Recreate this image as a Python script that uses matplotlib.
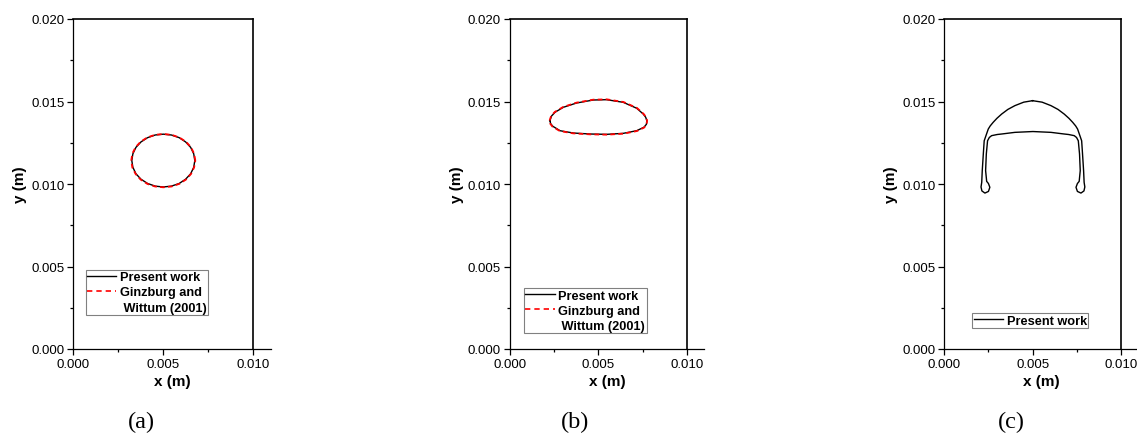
import numpy as np
import matplotlib
matplotlib.use("Agg")
import matplotlib.pyplot as plt
from matplotlib.lines import Line2D
from matplotlib.ticker import MultipleLocator, FormatStrFormatter

plt.rcParams["font.family"] = ["Liberation Sans", "DejaVu Sans"]

# (a) bubble contour, present work and Ginzburg & Wittum (2001), metres
a_x = [0.00675, 0.00669, 0.00652, 0.00624, 0.00588, 0.00545, 0.00500, 0.00455,
       0.00413, 0.00376, 0.00348, 0.00331, 0.00325, 0.00331, 0.00348, 0.00376,
       0.00413, 0.00455, 0.00500, 0.00545, 0.00588, 0.00624, 0.00652, 0.00669]
a_y = [0.01142, 0.01183, 0.01222, 0.01255, 0.01281, 0.01297, 0.01302, 0.01297,
       0.01281, 0.01255, 0.01222, 0.01183, 0.01142, 0.01101, 0.01062, 0.01029,
       0.01003, 0.00987, 0.00982, 0.00987, 0.01003, 0.01029, 0.01062, 0.01101]
a_ref_x = [0.00678, 0.00671, 0.00654, 0.00626, 0.00589, 0.00546, 0.00500, 0.00454,
           0.00411, 0.00374, 0.00346, 0.00328, 0.00322, 0.00328, 0.00346, 0.00374,
           0.00411, 0.00454, 0.00500, 0.00546, 0.00589, 0.00626, 0.00654, 0.00671]
a_ref_y = [0.01142, 0.01184, 0.01223, 0.01256, 0.01282, 0.01298, 0.01303, 0.01298,
           0.01282, 0.01256, 0.01223, 0.01184, 0.01142, 0.01100, 0.01061, 0.01027,
           0.01001, 0.00985, 0.00980, 0.00985, 0.01001, 0.01027, 0.01061, 0.01100]

# (b)
b_x = [0.00226, 0.00235, 0.00255, 0.00302, 0.00377, 0.00471, 0.00547, 0.00641,
       0.00717, 0.00754, 0.00768, 0.00774, 0.00772, 0.00758, 0.00717, 0.00641,
       0.00547, 0.00453, 0.00358, 0.00283, 0.00242, 0.00230]
b_y = [0.01384, 0.01412, 0.01435, 0.01465, 0.01491, 0.01509, 0.01511, 0.01495,
       0.01459, 0.01424, 0.01404, 0.01384, 0.01362, 0.01344, 0.01323, 0.01307,
       0.01301, 0.01303, 0.01309, 0.01323, 0.01350, 0.01366]
b_ref_x = [0.00224, 0.00233, 0.00254, 0.00301, 0.00376, 0.00471, 0.00548, 0.00642,
           0.00718, 0.00756, 0.00770, 0.00776, 0.00773, 0.00759, 0.00718, 0.00642,
           0.00547, 0.00453, 0.00357, 0.00282, 0.00240, 0.00228]
b_ref_y = [0.01384, 0.01413, 0.01437, 0.01467, 0.01493, 0.01511, 0.01513, 0.01497,
           0.01461, 0.01425, 0.01405, 0.01384, 0.01361, 0.01342, 0.01321, 0.01305,
           0.01299, 0.01301, 0.01307, 0.01321, 0.01348, 0.01365]

# (c) present work only
c_x = [0.00500, 0.00450, 0.00400, 0.00360, 0.00325, 0.00298, 0.00277, 0.00260,
       0.00249, 0.00236, 0.00226, 0.00221, 0.00215, 0.00212, 0.00208, 0.00213,
       0.00230, 0.00250, 0.00258, 0.00250, 0.00240, 0.00234, 0.00238, 0.00245,
       0.00255, 0.00268, 0.00300, 0.00325, 0.00400, 0.00502, 0.00604, 0.00679,
       0.00704, 0.00736, 0.00749, 0.00759, 0.00766, 0.00770, 0.00764, 0.00754,
       0.00746, 0.00754, 0.00774, 0.00791, 0.00796, 0.00792, 0.00789, 0.00783,
       0.00778, 0.00768, 0.00755, 0.00744, 0.00727, 0.00706, 0.00679, 0.00644,
       0.00604, 0.00554]
c_y = [0.01505, 0.01496, 0.01475, 0.01452, 0.01424, 0.01398, 0.01374, 0.01352,
       0.01333, 0.01293, 0.01262, 0.01182, 0.01081, 0.01010, 0.00982, 0.00958,
       0.00945, 0.00955, 0.00980, 0.01003, 0.01016, 0.01081, 0.01182, 0.01262,
       0.01282, 0.01293, 0.01300, 0.01303, 0.01313, 0.01318, 0.01313, 0.01303,
       0.01300, 0.01293, 0.01282, 0.01262, 0.01182, 0.01081, 0.01016, 0.01003,
       0.00980, 0.00955, 0.00945, 0.00958, 0.00982, 0.01010, 0.01081, 0.01182,
       0.01262, 0.01293, 0.01333, 0.01352, 0.01374, 0.01398, 0.01424, 0.01452,
       0.01475, 0.01496]

panels = [
    ("(a)", [73.3, 198.0], (a_x, a_y), (a_ref_x, a_ref_y), 141, (0.063, 0.240)),
    ("(b)", [510.0, 194.4], (b_x, b_y), (b_ref_x, b_ref_y), 575, (0.072, 0.184)),
    ("(c)", [944.3, 194.2], (c_x, c_y), None, 1011, (0.144, 0.108)),
]

W, H = 1137, 435
fig = plt.figure(figsize=(W / 100, H / 100), dpi=100)

for lab, (left, width), (px, py), ref, labx, legpos in panels:
    ax = fig.add_axes([left / W, (H - 350) / H, width / W, 330 / H])
    ax.plot(np.append(px, px[0]), np.append(py, py[0]), color="black", lw=1.0)
    handles = [Line2D([0], [0], color="black", lw=1.0, label="Present work")]
    if ref is not None:
        rx, ry = ref
        ax.plot(np.append(rx, rx[0]), np.append(ry, ry[0]), color="#ff0000",
                lw=1.3, ls=(0, (2.6, 1.8)))
        handles += [Line2D([0], [0], color="#ff0000", lw=1.2, ls=(0, (3.2, 2.4)),
                           label="Ginzburg and"),
                    Line2D([], [], ls="none", label=" Wittum (2001)")]
    ax.set_xlim(0, 0.011)
    ax.set_ylim(0, 0.020)
    ax.xaxis.set_major_locator(MultipleLocator(0.005))
    ax.yaxis.set_major_locator(MultipleLocator(0.005))
    ax.xaxis.set_minor_locator(MultipleLocator(0.0025))
    ax.yaxis.set_minor_locator(MultipleLocator(0.0025))
    ax.xaxis.set_major_formatter(FormatStrFormatter("%.3f"))
    ax.yaxis.set_major_formatter(FormatStrFormatter("%.3f"))
    ax.tick_params(which="both", direction="out", top=False, right=False,
                   labelsize=9.5, width=0.9)
    ax.tick_params(which="major", length=4.5, pad=2)
    ax.tick_params(which="minor", length=2.5)
    ax.spines["right"].set_position(("data", 0.010))
    ax.spines["top"].set_bounds(0, 0.010)
    for s in ("left", "bottom"):
        ax.spines[s].set_linewidth(0.9)
    for s in ("right", "top"):
        ax.spines[s].set_linewidth(1.2)
    ax.set_xlabel("x (m)", fontsize=11, fontweight="bold", labelpad=3)
    ax.set_ylabel("y (m)", fontsize=11, fontweight="bold", labelpad=3)
    leg = ax.legend(handles=handles, loc="upper left", bbox_to_anchor=legpos,
                    borderaxespad=0, borderpad=0.1, handlelength=2.3,
                    handletextpad=0.3, labelspacing=0.26, fancybox=False,
                    framealpha=1, edgecolor="#808080",
                    prop={"size": 9.2, "weight": "bold"})
    leg.get_frame().set_linewidth(0.8)
    fig.text(labx / W, 1 - 422 / H, lab, ha="center", va="center",
             fontsize=17.5, family="Liberation Serif")

fig.savefig("out.png", dpi=100)
